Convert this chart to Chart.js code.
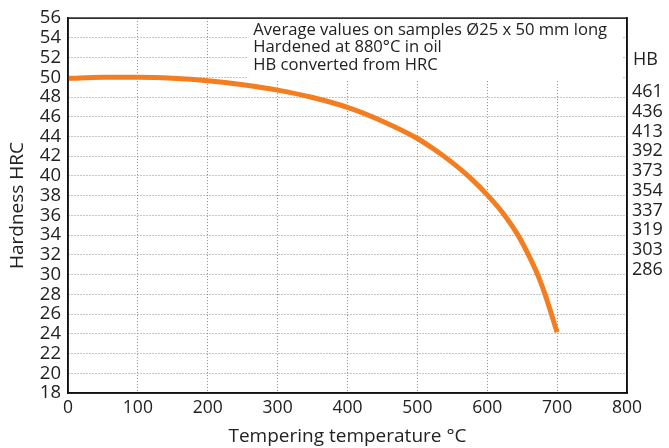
<!DOCTYPE html>
<html>
<head>
<meta charset="utf-8">
<script src="https://cdn.jsdelivr.net/npm/chart.js@4"></script>
<style>
  html, body { margin: 0; padding: 0; background: #fff; }
  #wrap { width: 669px; height: 448px; }
</style>
</head>
<body>
<div id="wrap"><canvas id="hardnessChart"></canvas></div>
<script>
// Tempering curve
const temperatures = [0, 50, 100, 150, 200, 250, 300, 350, 400, 450, 500, 525, 550, 575, 601, 625, 644, 659, 673, 683, 692, 700];
const hardnessHRC = [49.9, 50.0, 50.0, 49.9, 49.65, 49.25, 48.7, 47.95, 46.95, 45.55, 43.8, 42.65, 41.35, 39.85, 38.0, 36.0, 34.0, 32.0, 29.85, 27.95, 25.95, 24.15];

// HB scale on the right, shown against HRC grid values
const hbAtHRC = [48, 46, 44, 42, 40, 38, 36, 34, 32, 30];
const hbLabels = ['461', '436', '413', '392', '373', '354', '337', '319', '303', '286'];

const noteLines = [
    'Average values on samples Ø25 x 50 mm long',
    'Hardened at 880°C in oil',
    'HB converted from HRC'
];

const FONT = "'Open Sans', 'DejaVu Sans', sans-serif";

// white box behind the note text, frame round the plot and the "HB" heading
const notePlugin = {
    id: 'notePlugin',
    beforeDatasetsDraw(chart) {
        const { ctx, chartArea, scales } = chart;
        const x0 = scales.x.getPixelForValue(258);
        const x1 = scales.x.getPixelForValue(793);
        const y1 = scales.y.getPixelForValue(49.8);
        ctx.save();
        ctx.fillStyle = '#fff';
        ctx.fillRect(x0, chartArea.top + 1, x1 - x0, y1 - chartArea.top - 1);
        ctx.fillStyle = '#222';
        ctx.font = '16.6px ' + FONT;
        ctx.textBaseline = 'middle';
        noteLines.forEach((line, i) => {
            ctx.fillText(line, x0 + 5, chartArea.top + 12 + i * 17.5);
        });
        ctx.restore();
    },
    afterDraw(chart) {
        const { ctx, chartArea, scales } = chart;
        ctx.save();
        ctx.strokeStyle = '#111';
        ctx.lineWidth = 1.5;
        ctx.strokeRect(chartArea.left, chartArea.top, chartArea.right - chartArea.left, chartArea.bottom - chartArea.top);
        ctx.fillStyle = '#222';
        ctx.font = '18px ' + FONT;
        ctx.textBaseline = 'middle';
        ctx.fillText('HB', chartArea.right + 6, scales.y2.getPixelForValue(51.8));
        ctx.restore();
    }
};

new Chart(document.getElementById('hardnessChart'), {
    type: 'line',
    data: {
        datasets: [{
            data: temperatures.map((t, i) => ({ x: t, y: hardnessHRC[i] })),
            borderColor: '#f47d20',
            borderWidth: 5,
            pointRadius: 0,
            cubicInterpolationMode: 'monotone',
            borderCapStyle: 'butt',
            yAxisID: 'y'
        }]
    },
    options: {
        responsive: true,
        maintainAspectRatio: false,
        animation: false,
        layout: { padding: { top: 17, left: 0, right: 0, bottom: 0 } },
        plugins: { legend: { display: false }, tooltip: { enabled: false } },
        scales: {
            x: {
                type: 'linear',
                min: 0,
                max: 800,
                ticks: { stepSize: 100, padding: 5, autoSkip: false, color: '#222', font: { family: FONT, size: 17.5 } },
                grid: { color: '#8a8a8a', drawTicks: false, lineWidth: 1 },
                border: { display: true, color: '#111', width: 1.5, dash: [1, 2] },
                title: {
                    display: true,
                    text: 'Tempering temperature °C',
                    color: '#222',
                    font: { family: FONT, size: 19 },
                    padding: { top: 0, bottom: 0 }
                },
                afterFit(scale) { scale.height = 55; }
            },
            y: {
                position: 'left',
                min: 18,
                max: 56,
                ticks: { stepSize: 2, padding: 7, autoSkip: false, color: '#222', font: { family: FONT, size: 18.5 } },
                grid: { color: '#8a8a8a', drawTicks: false, lineWidth: 1 },
                border: { display: true, color: '#111', width: 1.5, dash: [1, 2] },
                title: {
                    display: true,
                    text: 'Hardness HRC',
                    color: '#222',
                    font: { family: FONT, size: 19 },
                    padding: { top: 6, bottom: 0 }
                },
                afterFit(scale) { scale.width = 68; }
            },
            y2: {
                position: 'right',
                min: 18,
                max: 56,
                ticks: {
                    stepSize: 2,
                    padding: 5,
                    autoSkip: false,
                    labelOffset: -5,
                    color: '#222',
                    font: { family: FONT, size: 18 },
                    callback(value) {
                        const k = hbAtHRC.indexOf(value);
                        return k >= 0 ? hbLabels[k] : '';
                    }
                },
                grid: { display: false, drawTicks: false },
                border: { display: true, color: '#111', width: 1.5 },
                afterFit(scale) { scale.width = 42; }
            }
        }
    },
    plugins: [notePlugin]
});
</script>
</body>
</html>
